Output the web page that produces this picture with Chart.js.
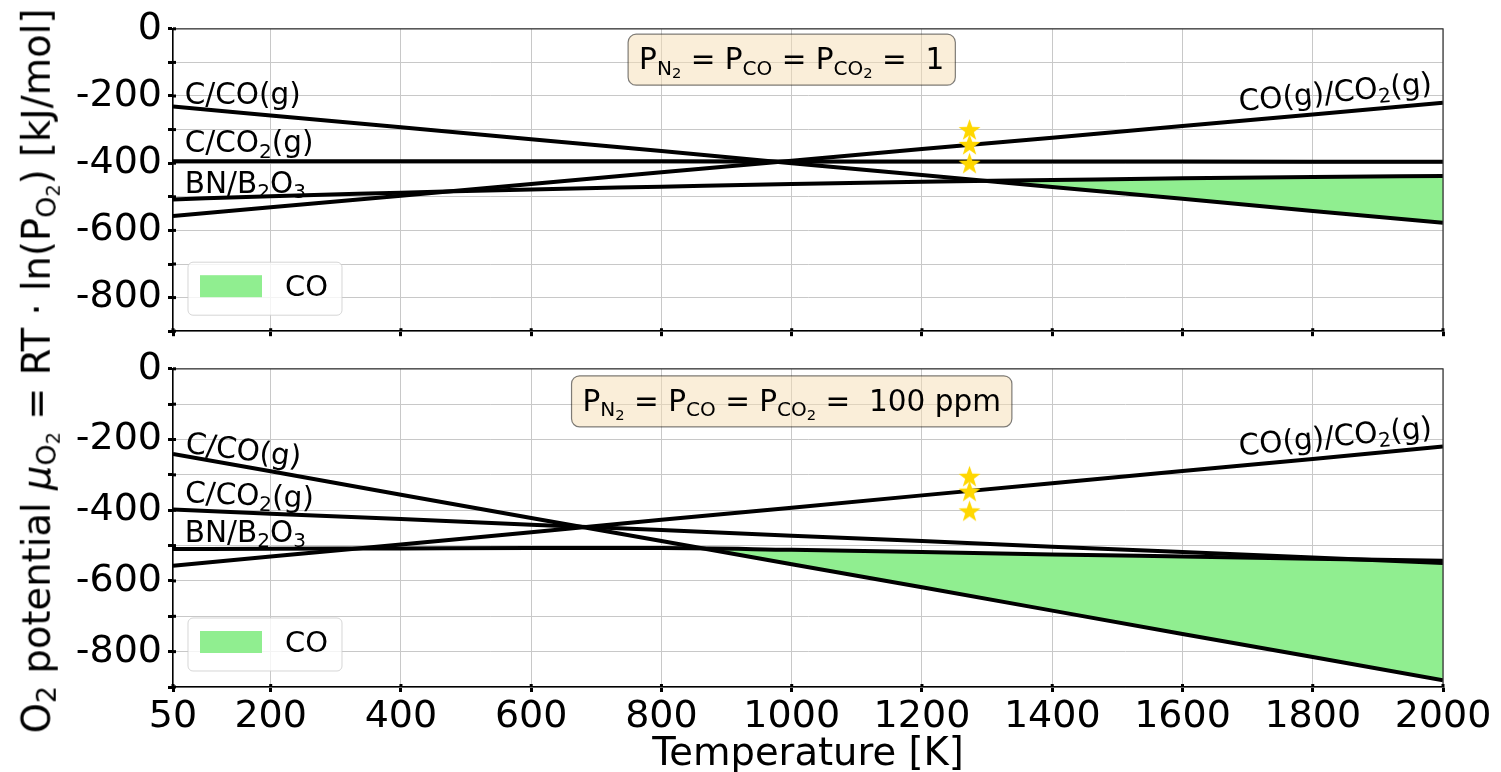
<!DOCTYPE html>
<html><head><meta charset="utf-8">
<script src="https://cdn.jsdelivr.net/npm/chart.js@4.4.0/dist/chart.umd.min.js"></script>
<style>
html,body{margin:0;padding:0;background:#fff;}
#wrap{position:relative;width:1501px;height:772px;overflow:hidden;font-family:'DejaVu Sans',sans-serif;}
canvas{position:absolute;left:0;}
#ytitle{position:absolute;left:37px;top:371px;transform:translate(-50%,-50%) rotate(-90deg);white-space:nowrap;font-size:38.5px;line-height:1;color:#000;}
#ytitle sub{font-size:0.7em;vertical-align:-0.22em;line-height:0;}
#ytitle sub sub{font-size:0.72em;vertical-align:-0.2em;}
</style></head><body>
<div id="wrap">
<canvas id="c1" width="1501" height="360" style="top:0"></canvas>
<canvas id="c2" width="1501" height="432" style="top:340px"></canvas>
<div id="ytitle">O<sub>2</sub> potential <i>μ</i><sub>O<sub>2</sub></sub> = RT · ln(P<sub>O<sub>2</sub></sub>) [kJ/mol]</div>
</div>
<script>
// ---------- data ----------
const temps = [50, 200, 400, 600, 800, 1000, 1200, 1400, 1600, 1800, 2000];
const xTickValues = [50, 200, 400, 600, 800, 1000, 1200, 1400, 1600, 1800, 2000];

// panel 1: P = 1
const topCCO   = [-231, -258, -293, -329, -364, -400, -435, -471, -506, -542, -577];
const topCCO2  = [-394, -394, -394, -394, -394, -395, -395, -395, -395, -396, -396];
const topCOCO2 = [-557, -531, -497, -462, -427, -393, -358, -324, -289, -255, -220];
const topBN    = [-508, -498, -488, -478, -470, -462, -455, -450, -445, -441, -438];

// panel 2: P = 100 ppm
const botCCO   = [-241, -290, -356, -422, -487, -553, -618, -684, -750, -815, -881];
const botCCO2  = [-398, -410, -425, -441, -456, -472, -487, -503, -518, -534, -549];
const botCOCO2 = [-557, -531, -497, -462, -427, -393, -358, -324, -289, -255, -220];
const botBN    = [-510, -509, -508, -507, -507, -512, -518, -525, -531, -537, -543];

const starT   = [1273, 1273, 1273];
const starTop = [-300, -344, -400];
const starBot = [-304, -346, -402];

const labelTexts = ['C/CO(g)', 'C/CO_2(g)', 'BN/B_2O_3', 'CO(g)/CO_2(g)'];
const boxTop = 'P_{N_2} = P_{CO} = P_{CO_2} =  1';
const boxBot = 'P_{N_2} = P_{CO} = P_{CO_2} =  100 ppm';
const legendText = 'CO';
const xTitle = 'Temperature [K]';

// ---------- rich text helpers ----------
const FONT = "'DejaVu Sans'";
const SC = [1, 0.68, 0.5], OFF = [0, 0.18, 0.3];
function parseRich(s) {
  const out = [];
  (function p(str, lvl) {
    let buf = '';
    for (let i = 0; i < str.length; i++) {
      const ch = str[i];
      if (ch === '_') {
        if (buf) { out.push({t: buf, l: lvl}); buf = ''; }
        if (str[i + 1] === '{') {
          let d = 0, j = i + 1;
          for (; j < str.length; j++) {
            if (str[j] === '{') d++;
            else if (str[j] === '}') { d--; if (d === 0) break; }
          }
          p(str.slice(i + 2, j), lvl + 1);
          i = j;
        } else { out.push({t: str[i + 1], l: lvl + 1}); i++; }
      } else buf += ch;
    }
    if (buf) out.push({t: buf, l: lvl});
  })(s, 0);
  return out;
}
function richWidth(ctx, s, size) {
  let w = 0;
  for (const seg of parseRich(s)) { ctx.font = (size * SC[seg.l]) + 'px ' + FONT; w += ctx.measureText(seg.t).width; }
  return w;
}
function drawRich(ctx, s, x, y, size) {
  ctx.textBaseline = 'alphabetic'; ctx.textAlign = 'left'; ctx.fillStyle = '#000';
  let cx = x;
  for (const seg of parseRich(s)) {
    ctx.font = (size * SC[seg.l]) + 'px ' + FONT;
    ctx.fillText(seg.t, cx, y + size * OFF[seg.l]);
    cx += ctx.measureText(seg.t).width;
  }
}
function roundRect(ctx, x, y, w, h, r) {
  ctx.beginPath();
  ctx.moveTo(x + r, y); ctx.lineTo(x + w - r, y); ctx.arcTo(x + w, y, x + w, y + r, r);
  ctx.lineTo(x + w, y + h - r); ctx.arcTo(x + w, y + h, x + w - r, y + h, r);
  ctx.lineTo(x + r, y + h); ctx.arcTo(x, y + h, x, y + h - r, r);
  ctx.lineTo(x, y + r); ctx.arcTo(x, y, x + r, y, r); ctx.closePath();
}
function starImage(size, color) {
  const c = document.createElement('canvas'); c.width = c.height = size;
  const g = c.getContext('2d'); g.fillStyle = color; g.beginPath();
  for (let i = 0; i < 10; i++) {
    const r = i % 2 ? size * 0.2 : size * 0.5;
    const a = -Math.PI / 2 + i * Math.PI / 5;
    g.lineTo(size / 2 + r * Math.cos(a), size / 2 + 1 + r * Math.sin(a));
  }
  g.closePath(); g.fill();
  return c;
}
const STAR = starImage(23, '#FFD700');

// ---------- decoration config per canvas ----------
const DECO = {
  c1: {
    labels: [
      {i: 0, x: 68, y: -225, rot: 0}, {i: 1, x: 68, y: -368, rot: 0},
      {i: 2, x: 68, y: -489, rot: 0}, {i: 3, x: 1688, y: -245, rot: -5.5}
    ],
    box: {text: boxTop, x: 1000, y: -92},
    xTitle: false
  },
  c2: {
    labels: [
      {i: 0, x: 68, y: -237, rot: 7}, {i: 1, x: 68, y: -377, rot: 2.5},
      {i: 2, x: 68, y: -489, rot: 0}, {i: 3, x: 1688, y: -245, rot: -5.5}
    ],
    box: {text: boxBot, x: 1000, y: -92},
    xTitle: true
  }
};

const deco = {
  id: 'deco',
  afterDatasetsDraw(chart) {
    const cfg = DECO[chart.canvas.id];
    const ctx = chart.ctx, xs = chart.scales.x, ys = chart.scales.y, ca = chart.chartArea;
    ctx.save();
    // top/right spines
    ctx.strokeStyle = '#333'; ctx.lineWidth = 1.2;
    ctx.beginPath(); ctx.moveTo(ca.left, ca.top); ctx.lineTo(ca.right, ca.top); ctx.lineTo(ca.right, ca.bottom); ctx.stroke();
    // inward tick parts
    ctx.strokeStyle = '#000'; ctx.lineWidth = 3;
    for (const t of xs.ticks) { const px = xs.getPixelForValue(t.value); ctx.beginPath(); ctx.moveTo(px, ca.bottom); ctx.lineTo(px, ca.bottom - 3); ctx.stroke(); }
    for (const t of ys.ticks) { const py = ys.getPixelForValue(t.value); ctx.beginPath(); ctx.moveTo(ca.left, py); ctx.lineTo(ca.left + 3, py); ctx.stroke(); }
    // line labels
    for (const L of cfg.labels) {
      ctx.save();
      ctx.translate(xs.getPixelForValue(L.x), ys.getPixelForValue(L.y));
      ctx.rotate(L.rot * Math.PI / 180);
      drawRich(ctx, labelTexts[L.i], 0, 0, 29.5);
      ctx.restore();
    }
    // annotation box
    const b = cfg.box, bs = 29.5;
    const w = richWidth(ctx, b.text, bs);
    const cx = xs.getPixelForValue(b.x), cy = ys.getPixelForValue(b.y);
    const bw = w + 22, bh = 51;
    roundRect(ctx, cx - bw / 2, cy - bh / 2, bw, bh, 8);
    ctx.fillStyle = 'rgba(245,222,179,0.5)'; ctx.fill();
    ctx.strokeStyle = 'rgba(0,0,0,0.5)'; ctx.lineWidth = 1.2; ctx.stroke();
    drawRich(ctx, b.text, cx - w / 2, cy + bs * 0.33, bs);
    // legend
    const lx = ca.left + 15, ly = ca.bottom - 16 - 53;
    roundRect(ctx, lx, ly, 154, 53, 5);
    ctx.fillStyle = 'rgba(255,255,255,0.8)'; ctx.fill();
    ctx.strokeStyle = 'rgba(204,204,204,0.8)'; ctx.lineWidth = 1; ctx.stroke();
    ctx.fillStyle = '#90EE90'; ctx.fillRect(lx + 12, ly + 13, 62, 22);
    ctx.fillStyle = '#000'; ctx.font = '29px ' + FONT; ctx.textBaseline = 'middle'; ctx.textAlign = 'left';
    ctx.fillText(legendText, lx + 97, ly + 26);
    // x title
    if (cfg.xTitle) {
      ctx.font = '38.5px ' + FONT; ctx.textAlign = 'center'; ctx.textBaseline = 'alphabetic';
      ctx.fillText(xTitle, (ca.left + ca.right) / 2, ca.bottom + 78);
    }
    ctx.restore();
  }
};

// ---------- charts ----------
function pts(ys) { return temps.map((t, i) => ({x: t, y: ys[i]})); }
function lineDS(label, ys, extra) {
  return Object.assign({label, data: pts(ys), borderColor: '#000', borderWidth: 4, pointRadius: 0, fill: false, tension: 0}, extra || {});
}
function datasets(cco, cco2, coco2, bn, stars) {
  return [
    {label: 'stars', data: starT.map((t, i) => ({x: t, y: stars[i]})), showLine: false, pointStyle: STAR, pointRadius: 11, borderWidth: 0},
    lineDS('BN/B2O3', bn, {cubicInterpolationMode: 'monotone'}),
    lineDS('C/CO2(g)', cco2),
    lineDS('CO(g)/CO2(g)', coco2),
    lineDS('C/CO(g)', cco, {fill: {target: 1, above: 'rgba(0,0,0,0)', below: '#90EE90'}})
  ];
}
const tickFont = {family: 'DejaVu Sans', size: 38};
function makeChart(id, ds, padTop, xh, showX) {
  return new Chart(document.getElementById(id), {
    type: 'line',
    data: {datasets: ds},
    options: {
      responsive: false, animation: false, events: [],
      layout: {padding: {top: padTop, right: 58, left: 0, bottom: 0}},
      plugins: {legend: {display: false}, tooltip: {enabled: false}},
      scales: {
        x: {
          type: 'linear', min: 50, max: 2000,
          afterBuildTicks: s => { s.ticks = xTickValues.map(v => ({value: v})); },
          afterFit: s => { s.height = xh; },
          ticks: {display: showX, autoSkip: false, maxRotation: 0, minRotation: 0, font: tickFont, color: '#000', padding: 2,
                  callback: v => String(v)},
          grid: {color: '#c8c8c8', lineWidth: 1, tickColor: '#000', tickWidth: 3, tickLength: 5},
          border: {color: '#000', width: 1.5}
        },
        y: {
          min: -900, max: 0,
          afterFit: s => { s.width = 173; },
          ticks: {stepSize: 100, autoSkip: false, callback: v => (v % 200 === 0 ? String(v) : ''), font: tickFont, color: '#000', padding: 6},
          grid: {color: '#c8c8c8', lineWidth: 1, tickColor: '#000', tickWidth: 3, tickLength: 5},
          border: {color: '#000', width: 1.5}
        }
      }
    },
    plugins: [deco]
  });
}
makeChart('c1', datasets(topCCO, topCCO2, topCOCO2, topBN, starTop), 27, 12, false);
makeChart('c2', datasets(botCCO, botCCO2, botCOCO2, botBN, starBot), 26, 85, true);
</script>
</body></html>
